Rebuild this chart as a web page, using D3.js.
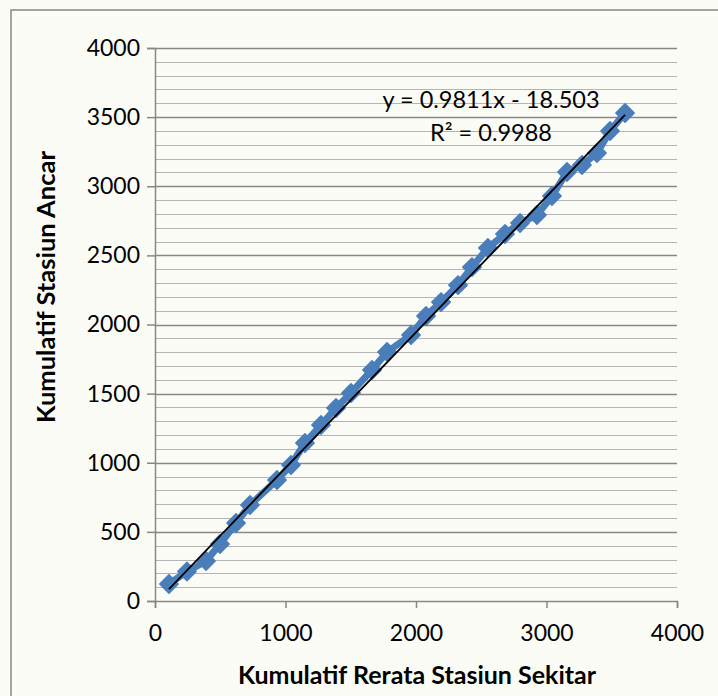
<!DOCTYPE html>
<html><head><meta charset="utf-8">
<script src="https://cdn.jsdelivr.net/npm/d3@7/dist/d3.min.js"></script>
<style>body{margin:0;background:#fcfcf7}svg{display:block}</style>
</head><body>
<svg id="chart" width="718" height="696"></svg>
<script>
// Data
const xValues = [107, 245, 391, 498, 621, 728, 935, 1042, 1149, 1272, 1387, 1502, 1663, 1778, 1962, 2077, 2192, 2322, 2429, 2551, 2682, 2797, 2927, 3042, 3157, 3272, 3387, 3487, 3602];
const yValues = [123, 213, 289, 412, 564, 694, 875, 984, 1143, 1273, 1396, 1505, 1671, 1801, 1924, 2061, 2162, 2285, 2415, 2553, 2654, 2734, 2792, 2929, 3103, 3154, 3241, 3400, 3530];
const xTicks = [0, 1000, 2000, 3000, 4000];
const yTicks = [0, 500, 1000, 1500, 2000, 2500, 3000, 3500, 4000];
const yMinorTicks = [100,200,300,400,600,700,800,900,1100,1200,1300,1400,1600,1700,1800,1900,2100,2200,2300,2400,2600,2700,2800,2900,3100,3200,3300,3400,3600,3700,3800,3900];
const trendSlope = 0.9811;
const trendIntercept = -18.503;
const equationLabel = "y = 0.9811x - 18.503";
const r2Label = "R² = 0.9988";
const xTitle = "Kumulatif Rerata Stasiun Sekitar";
const yTitle = "Kumulatif Stasiun Ancar";

const svg = d3.select("#chart");
const FONT = "Lato, 'Open Sans', sans-serif";
const axisColor = "#878787";
const minorColor = "#b4b4b4";
const blue = "#4a7ebb";

// outer chart border
svg.append("rect").attr("x", 11).attr("y", 10).attr("width", 740).attr("height", 720)
  .attr("fill", "#fcfcf7").attr("stroke", axisColor).attr("stroke-width", 1.5);

const x = d3.scaleLinear().domain([0, 4000]).range([155, 677]);
const y = d3.scaleLinear().domain([0, 4000]).range([601, 48]);

// minor gridlines
svg.append("g").selectAll("line").data(yMinorTicks).join("line")
  .attr("x1", x(0)).attr("x2", x(4000))
  .attr("y1", d => Math.round(y(d)) + 0.5).attr("y2", d => Math.round(y(d)) + 0.5)
  .attr("stroke", minorColor).attr("stroke-width", 1.2);

// major gridlines
svg.append("g").selectAll("line").data(yTicks.filter(d => d > 0)).join("line")
  .attr("x1", x(0)).attr("x2", x(4000))
  .attr("y1", d => Math.round(y(d)) + 0.5).attr("y2", d => Math.round(y(d)) + 0.5)
  .attr("stroke", axisColor).attr("stroke-width", 1.5);

// y axis
const yAxis = svg.append("g").attr("transform", `translate(${x(0)},0)`)
  .call(d3.axisLeft(y).tickValues(yTicks).tickSize(8).tickPadding(7).tickFormat(d3.format("d")));
yAxis.select(".domain").attr("stroke", axisColor).attr("stroke-width", 1.5);
yAxis.selectAll(".tick line").attr("stroke", axisColor).attr("stroke-width", 1.5);
yAxis.selectAll("text").attr("font-family", FONT).attr("font-size", 23).attr("fill", "#000");

// x axis
const xAxis = svg.append("g").attr("transform", `translate(0,${y(0)})`)
  .call(d3.axisBottom(x).tickValues(xTicks).tickSize(7).tickPadding(17).tickFormat(d3.format("d")));
xAxis.select(".domain").attr("stroke", axisColor).attr("stroke-width", 1.5);
xAxis.selectAll(".tick line").attr("stroke", axisColor).attr("stroke-width", 1.5);
xAxis.selectAll("text").attr("font-family", FONT).attr("font-size", 23).attr("fill", "#000");

// data series: thick line + diamond markers
const pts = xValues.map((v, i) => [v, yValues[i]]);
svg.append("path").datum(pts)
  .attr("d", d3.line().x(d => x(d[0])).y(d => y(d[1])))
  .attr("fill", "none").attr("stroke", blue).attr("stroke-width", 7).attr("stroke-linejoin", "round");
const diamond = d3.symbol().type(d3.symbolDiamond2).size(215);
svg.append("g").selectAll("path").data(pts).join("path")
  .attr("d", diamond)
  .attr("transform", d => `translate(${x(d[0])},${y(d[1])})`)
  .attr("fill", blue).attr("stroke", blue).attr("stroke-width", 1.5).attr("stroke-linejoin", "round");

// trendline
const xMin = d3.min(xValues), xMax = d3.max(xValues);
svg.append("line")
  .attr("x1", x(xMin)).attr("y1", y(trendSlope * xMin + trendIntercept))
  .attr("x2", x(xMax)).attr("y2", y(trendSlope * xMax + trendIntercept))
  .attr("stroke", "#000").attr("stroke-width", 1.8);

// equation labels
svg.append("text").attr("x", 491).attr("y", 108).attr("text-anchor", "middle")
  .attr("font-family", FONT).attr("font-size", 23.5).text(equationLabel);
svg.append("text").attr("x", 491).attr("y", 141).attr("text-anchor", "middle")
  .attr("font-family", FONT).attr("font-size", 23.5).text(r2Label);

// axis titles
svg.append("text").attr("x", 417).attr("y", 684).attr("text-anchor", "middle")
  .attr("font-family", FONT).attr("font-size", 25).attr("font-weight", "bold").text(xTitle);
svg.append("text").attr("transform", "translate(55,287) rotate(-90)").attr("text-anchor", "middle")
  .attr("font-family", FONT).attr("font-size", 25.5).attr("font-weight", "bold").text(yTitle);
</script>
</body></html>
